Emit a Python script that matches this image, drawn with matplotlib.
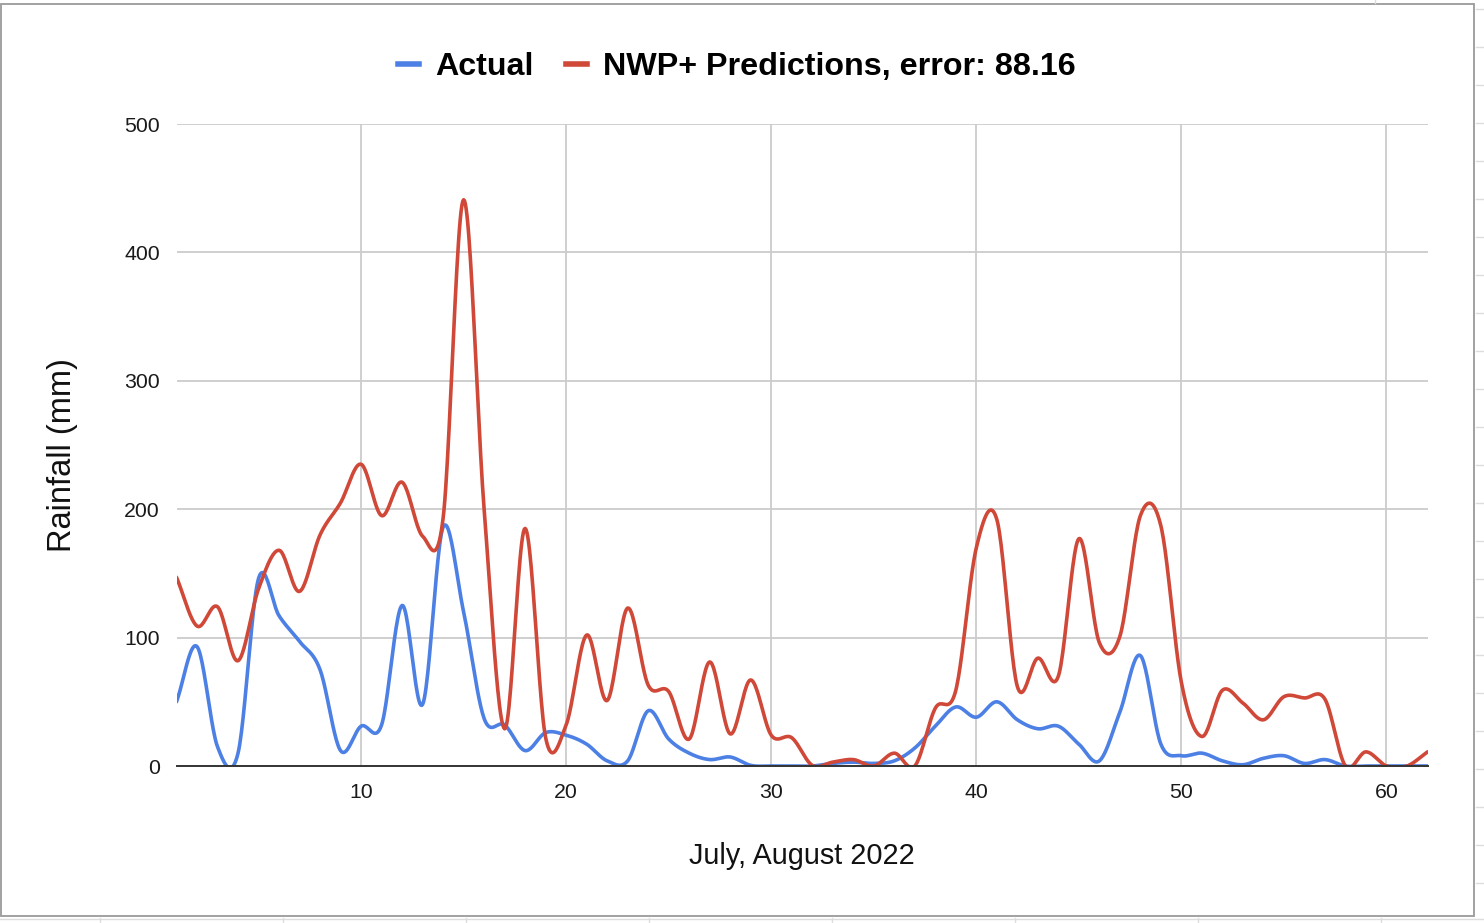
import numpy as np
import matplotlib
matplotlib.use("Agg")
import matplotlib.pyplot as plt
from matplotlib.lines import Line2D
from matplotlib.patches import Rectangle

plt.rcParams['font.family'] = ['Liberation Sans', 'DejaVu Sans']

days = list(range(1, 63))
actual = [50, 93, 15, 10, 146, 117, 97, 75, 12, 31,
          32, 125, 48, 186, 120, 37, 32, 12, 26, 24,
          17, 4, 4, 43, 21, 10, 5, 7, 0.5, 0,
          0, 0, 2, 3, 2, 4, 14, 31, 46, 38,
          50, 36, 29, 31, 17, 4, 42, 86, 17, 8,
          10, 4, 1, 6, 8, 2, 5, 0, 0, 0,
          0, 0]
nwp = [147, 109, 124, 82, 138, 168, 136, 180, 205, 235,
       195, 221, 179, 193, 441, 200, 29, 185, 22, 32,
       102, 51, 123, 63, 58, 21, 81, 25, 67, 24,
       22, 0.5, 3, 5, 0, 10, 0, 45, 59, 170,
       192, 62, 84, 70, 177, 96, 101, 195, 187, 65,
       23, 59, 49, 36, 54, 53, 52, 0, 11, 0,
       0, 11]
series_names = ["Actual", "NWP+ Predictions, error: 88.16"]
x_ticks = [10, 20, 30, 40, 50, 60]
y_ticks = [0, 100, 200, 300, 400, 500]
x_label = "July, August 2022"
y_label = "Rainfall (mm)"

BLUE = "#4d80e4"
RED = "#cf4838"


def catmull_rom(x, y, n=24):
    x = np.asarray(x, float)
    y = np.asarray(y, float)
    m = np.empty_like(y)
    m[1:-1] = (y[2:] - y[:-2]) / 2.0
    m[0] = y[1] - y[0]
    m[-1] = y[-1] - y[-2]
    xs, ys = [], []
    t = np.linspace(0, 1, n, endpoint=False)
    h00 = 2 * t**3 - 3 * t**2 + 1
    h10 = t**3 - 2 * t**2 + t
    h01 = -2 * t**3 + 3 * t**2
    h11 = t**3 - t**2
    for i in range(len(x) - 1):
        dx = x[i + 1] - x[i]
        xs.append(x[i] + t * dx)
        ys.append(h00 * y[i] + h10 * m[i] + h01 * y[i + 1] + h11 * m[i + 1])
    xs.append([x[-1]])
    ys.append([y[-1]])
    return np.concatenate(xs), np.concatenate(ys)


W, H = 1484, 923
fig = plt.figure(figsize=(W / 100, H / 100), dpi=100)
fig.patch.set_facecolor("white")

# spreadsheet cell lines outside the chart
for k in range(25):
    yy = 9 + 38 * k
    if yy < 916:
        fig.add_artist(Line2D([1476 / W, 1.0], [1 - yy / H, 1 - yy / H],
                              transform=fig.transFigure, color="#dddddd", lw=1))
for xx in [100, 283, 466, 649, 832, 1015, 1198, 1381]:
    fig.add_artist(Line2D([xx / W, xx / W], [0, 1 - 918 / H],
                          transform=fig.transFigure, color="#dddddd", lw=1))
fig.add_artist(Line2D([0, 1], [1 - 919 / H, 1 - 919 / H],
                      transform=fig.transFigure, color="#dddddd", lw=1))
fig.add_artist(Line2D([1375 / W, 1375 / W], [1 - 3 / H, 1],
                      transform=fig.transFigure, color="#dddddd", lw=1))
# chart border
fig.add_artist(Rectangle((1 / W, 1 - 916 / H), 1473 / W, 912 / H,
                         transform=fig.transFigure, fill=False,
                         edgecolor="#9a9a9a", lw=1.3))

left, right, top, bottom = 176.5, 1427.5, 124, 766
ax = fig.add_axes([left / W, 1 - bottom / H, (right - left) / W, (bottom - top) / H])
ax.set_xlim(1, 62)
ax.set_ylim(0, 500)

for yt in y_ticks[1:]:
    ax.axhline(yt, color="#cccccc", lw=1.3, zorder=0)
for xt in x_ticks:
    ax.axvline(xt, color="#cccccc", lw=1.3, zorder=0)

bx, by = catmull_rom(days, actual)
rx, ry = catmull_rom(days, nwp)
ax.plot(bx, by, color=BLUE, lw=2.6, solid_capstyle="round", zorder=3)
ax.plot(rx, ry, color=RED, lw=2.6, solid_capstyle="round", zorder=4)
ax.axhline(0, color="#333333", lw=1.4, zorder=5, clip_on=False)

for s in ax.spines.values():
    s.set_visible(False)
ax.set_xticks(x_ticks)
ax.set_yticks(y_ticks)
ax.tick_params(axis="both", length=0, labelsize=15.3, colors="#1a1a1a")
ax.tick_params(axis="y", pad=12)
ax.tick_params(axis="x", pad=12)

fig.text(62 / W, 1 - 455 / H, y_label, rotation=90, ha="center", va="center",
         fontsize=23.5, color="#111111")
fig.text(802 / W, 1 - 856 / H, x_label, ha="center", va="center",
         fontsize=20.8, color="#111111")

handles = [Line2D([], [], color=BLUE, lw=4), Line2D([], [], color=RED, lw=4)]
fig.legend(handles, series_names, loc="center", bbox_to_anchor=(737 / W, 1 - 67 / H),
           ncol=2, frameon=False, handlelength=0.66, handletextpad=0.5,
           columnspacing=1.0, prop={"weight": "bold", "size": 23.2})

fig.savefig("out.png", dpi=100, facecolor="white")
